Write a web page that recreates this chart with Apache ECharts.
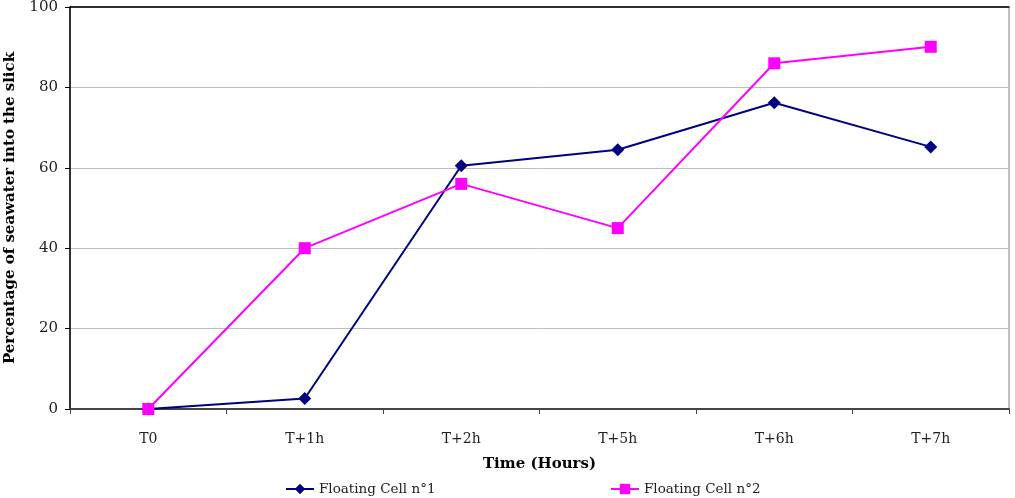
<!DOCTYPE html>
<html>
<head>
<meta charset="utf-8">
<script src="https://cdn.jsdelivr.net/npm/echarts@6/dist/echarts.min.js"></script>
<style>
html,body{margin:0;padding:0;background:#fff;}
#main{width:1015px;height:498px;}
</style>
</head>
<body>
<div id="main"></div>
<script>
var categories = ['T0', 'T+1h', 'T+2h', 'T+5h', 'T+6h', 'T+7h'];
var cell1 = [0, 2.6, 60.5, 64.5, 76.2, 65.2];
var cell2 = [0, 40, 56, 45, 86, 90.1];
var yTicks = [0, 20, 40, 60, 80, 100];

var font = 'DejaVu Serif';
var myChart = echarts.init(document.getElementById('main'));

var option = {
    animation: false,
    textStyle: { fontFamily: font },
    legend: [
        {
            left: 280, top: 477,
            itemWidth: 28, itemHeight: 13, itemGap: 5,
            textStyle: { fontFamily: font, fontSize: 13.5, color: '#222' },
            data: ['Floating Cell n°1']
        },
        {
            left: 605, top: 477,
            itemWidth: 28, itemHeight: 13,
            textStyle: { fontFamily: font, fontSize: 13.5, color: '#222' },
            data: ['Floating Cell n°2']
        }
    ],
    grid: {
        show: true,
        left: 70, right: 6, top: 7, bottom: 89,
        borderColor: '#808080', borderWidth: 1,
        outerBoundsMode: 'none',
        containLabel: false
    },
    xAxis: [
        {
            type: 'category',
            data: categories,
            boundaryGap: true,
            name: 'Time (Hours)',
            nameLocation: 'middle',
            nameGap: 48,
            nameTextStyle: { fontFamily: font, fontSize: 15, fontWeight: 'bold', color: '#000' },
            axisLine: { lineStyle: { color: '#444', width: 2 } },
            axisTick: { show: true, inside: false, length: 5, alignWithLabel: false, lineStyle: { color: '#444' } },
            axisLabel: { fontFamily: font, fontSize: 14, color: '#222', margin: 23 },
            splitLine: { show: false }
        },
        {
            type: 'category',
            data: categories,
            position: 'top',
            axisLine: { lineStyle: { color: '#000', width: 1.5 } },
            axisTick: { show: false },
            axisLabel: { show: false }
        }
    ],
    yAxis: {
        type: 'value',
        min: 0, max: 100, interval: 20,
        name: 'Percentage of seawater into the slick',
        nameLocation: 'middle',
        nameGap: 52,
        nameTextStyle: { fontFamily: font, fontSize: 15, fontWeight: 'bold', color: '#000' },
        axisLine: { show: true, lineStyle: { color: '#000', width: 1.5 } },
        axisTick: { show: true, length: 5, lineStyle: { color: '#000' } },
        axisLabel: {
            fontFamily: font, fontSize: 15, color: '#222', margin: 12,
            formatter: function (v) { return yTicks.indexOf(v) >= 0 ? String(v) : ''; }
        },
        splitLine: { show: true, lineStyle: { color: '#bdbdbd', width: 1 } }
    },
    series: [
        {
            name: 'Floating Cell n°1',
            type: 'line',
            data: cell1,
            symbol: 'diamond',
            symbolSize: 13,
            lineStyle: { color: '#000080', width: 2 },
            itemStyle: { color: '#000080' },
            z: 3
        },
        {
            name: 'Floating Cell n°2',
            type: 'line',
            data: cell2,
            symbol: 'rect',
            symbolSize: 12,
            lineStyle: { color: '#ff00ff', width: 2 },
            itemStyle: { color: '#ff00ff' },
            z: 4
        }
    ]
};

myChart.setOption(option);
</script>
</body>
</html>
